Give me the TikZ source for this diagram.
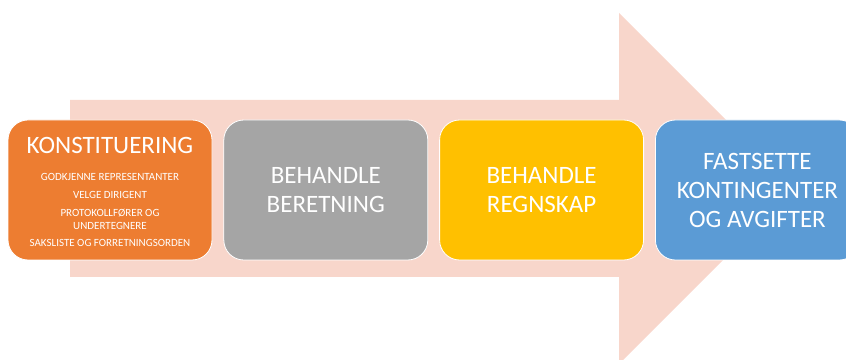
\documentclass[tikz,border=0pt]{standalone}
\usepackage{fontspec}
\setmainfont{Carlito}
\usetikzlibrary{positioning}
\definecolor{arrowpink}{HTML}{F8D6CB}
\definecolor{konorange}{HTML}{ED7D31}
\definecolor{begray}{HTML}{A5A5A5}
\definecolor{reyellow}{HTML}{FFC000}
\definecolor{fablue}{HTML}{5B9BD5}
\newcommand{\smalltext}{\fontsize{8.25}{9.75}\selectfont}
\begin{document}
\begin{tikzpicture}[x=0.75pt, y=0.75pt,
		stepbox/.style={draw=white, line width=0.6pt, rounded corners=15pt, minimum width=153pt, minimum height=105pt, inner sep=0pt, align=center, text=white, font=\fontsize{18.75}{21.75}\selectfont},
		node distance=8.25pt]
		\useasboundingbox (0,0) rectangle (846,360);
		\clip (0,0) rectangle (846,360);
		% big arrow behind
		\fill[arrowpink] (70,260) -- (619,260) -- (619,347) -- (794.5,171.5) -- (619,-4) -- (619,83) -- (70,83) -- cycle;
		% steps
		\node[stepbox, fill=konorange] (konst) at (110,170) {\rule{0pt}{18pt}KONSTITUERING\\[-1pt]
			{\smalltext\begin{tabular}[t]{@{}c@{}}
				GODKJENNE REPRESENTANTER\\[3.5pt]
				VELGE DIRIGENT\\[3.5pt]
				PROTOKOLLFØRER OG\\
				UNDERTEGNERE\\[3.5pt]
				SAKSLISTE OG FORRETNINGSORDEN
			\end{tabular}}};
		\node[stepbox, fill=begray, right=of konst] (beretning) {BEHANDLE\\BERETNING};
		\node[stepbox, fill=reyellow, right=of beretning] (regnskap) {BEHANDLE\\REGNSKAP};
		\node[stepbox, fill=fablue, right=of regnskap] (kontingent) {FASTSETTE\\KONTINGENTER\\OG AVGIFTER};
\end{tikzpicture}
\end{document}
